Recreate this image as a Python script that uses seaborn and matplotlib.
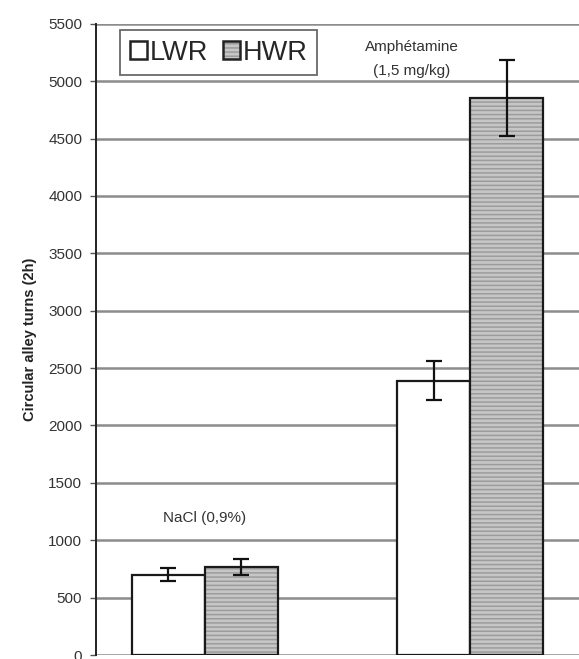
import pandas as pd
import seaborn as sns
import matplotlib.pyplot as plt
import matplotlib.colors as mcolors

# values
groups = ['NaCl (0,9%)', 'Amphétamine (1,5 mg/kg)']
strains = ['LWR', 'HWR']
lwr_mean = [700, 2390]
hwr_mean = [770, 4855]
lwr_err = [55, 170]
hwr_err = [70, 330]

sns.set_style('white')
plt.rcParams['font.family'] = ['Liberation Sans', 'DejaVu Sans']
plt.rcParams['hatch.linewidth'] = 1.1


def main():
    data = pd.DataFrame({
        'group': groups * 2,
        'strain': ['LWR'] * 2 + ['HWR'] * 2,
        'turns': lwr_mean + hwr_mean,
    })
    errs = lwr_err + hwr_err

    fig = plt.figure(figsize=(5.79, 6.59), dpi=100)
    ax = fig.add_axes([0.166, 0.006, 0.834, 0.958])

    sns.barplot(data=data, x='group', y='turns', hue='strain',
                order=groups, hue_order=strains, errorbar=None,
                palette=['white', '#c6c6c6'], width=0.55, saturation=1,
                edgecolor='#1a1a1a', linewidth=1.6, ax=ax, zorder=3)

    # striped fill for HWR bars, errorbars on top
    for i, p in enumerate(ax.patches[:4]):
        x = p.get_x() + p.get_width() / 2
        h = p.get_height()
        if i >= 2:
            p.set_hatch('----')
            p._hatch_color = mcolors.to_rgba('#9c9c9c')
        ax.errorbar(x, h, yerr=errs[i], color='#111111', capsize=6,
                    elinewidth=1.6, capthick=1.6, zorder=4)

    ax.set_ylim(0, 5500)
    ax.set_xlim(-0.41, 1.41)
    ax.set_yticks(range(0, 5501, 500))
    ax.yaxis.grid(True, color='#8c8c8c', linewidth=1.8, zorder=0)
    ax.set_axisbelow(True)
    for s in ['top', 'right', 'bottom']:
        ax.spines[s].set_visible(False)
    ax.spines['left'].set_color('#222222')
    ax.spines['left'].set_linewidth(1.4)
    ax.tick_params(axis='y', left=True, length=4, width=1, color='#555555',
                   labelsize=11, labelcolor='#333333', pad=6)
    ax.set_xticks([])
    ax.set_xlabel('')
    ax.set_ylabel('Circular alley turns (2h)', fontsize=10.5,
                  fontweight='bold', color='#222222', labelpad=8)

    ax.text(0, 1190, 'NaCl (0,9%)', ha='center', va='center', fontsize=11,
            color='#333333')
    ax.text(0.78, 5300, 'Amphétamine', ha='center', va='center', fontsize=11,
            color='#333333')
    ax.text(0.78, 5085, '(1,5 mg/kg)', ha='center', va='center', fontsize=11,
            color='#333333')

    leg = ax.legend(loc='upper left', bbox_to_anchor=(0.05, 0.99), ncol=2,
                    fontsize=19.5, frameon=True, fancybox=False,
                    handlelength=0.62, handleheight=0.62, handletextpad=0.12,
                    columnspacing=0.55, borderpad=0.35, borderaxespad=0)
    leg.get_frame().set_edgecolor('#444444')
    leg.get_frame().set_linewidth(1.3)
    leg.set_zorder(5)
    for hdl in leg.legend_handles:
        hdl.set_edgecolor('#222222')
        hdl.set_linewidth(1.8)
    leg.legend_handles[1].set_hatch('----')
    leg.legend_handles[1]._hatch_color = mcolors.to_rgba('#9c9c9c')

    fig.savefig('out.png', dpi=100)


if __name__ == '__main__':
    main()
